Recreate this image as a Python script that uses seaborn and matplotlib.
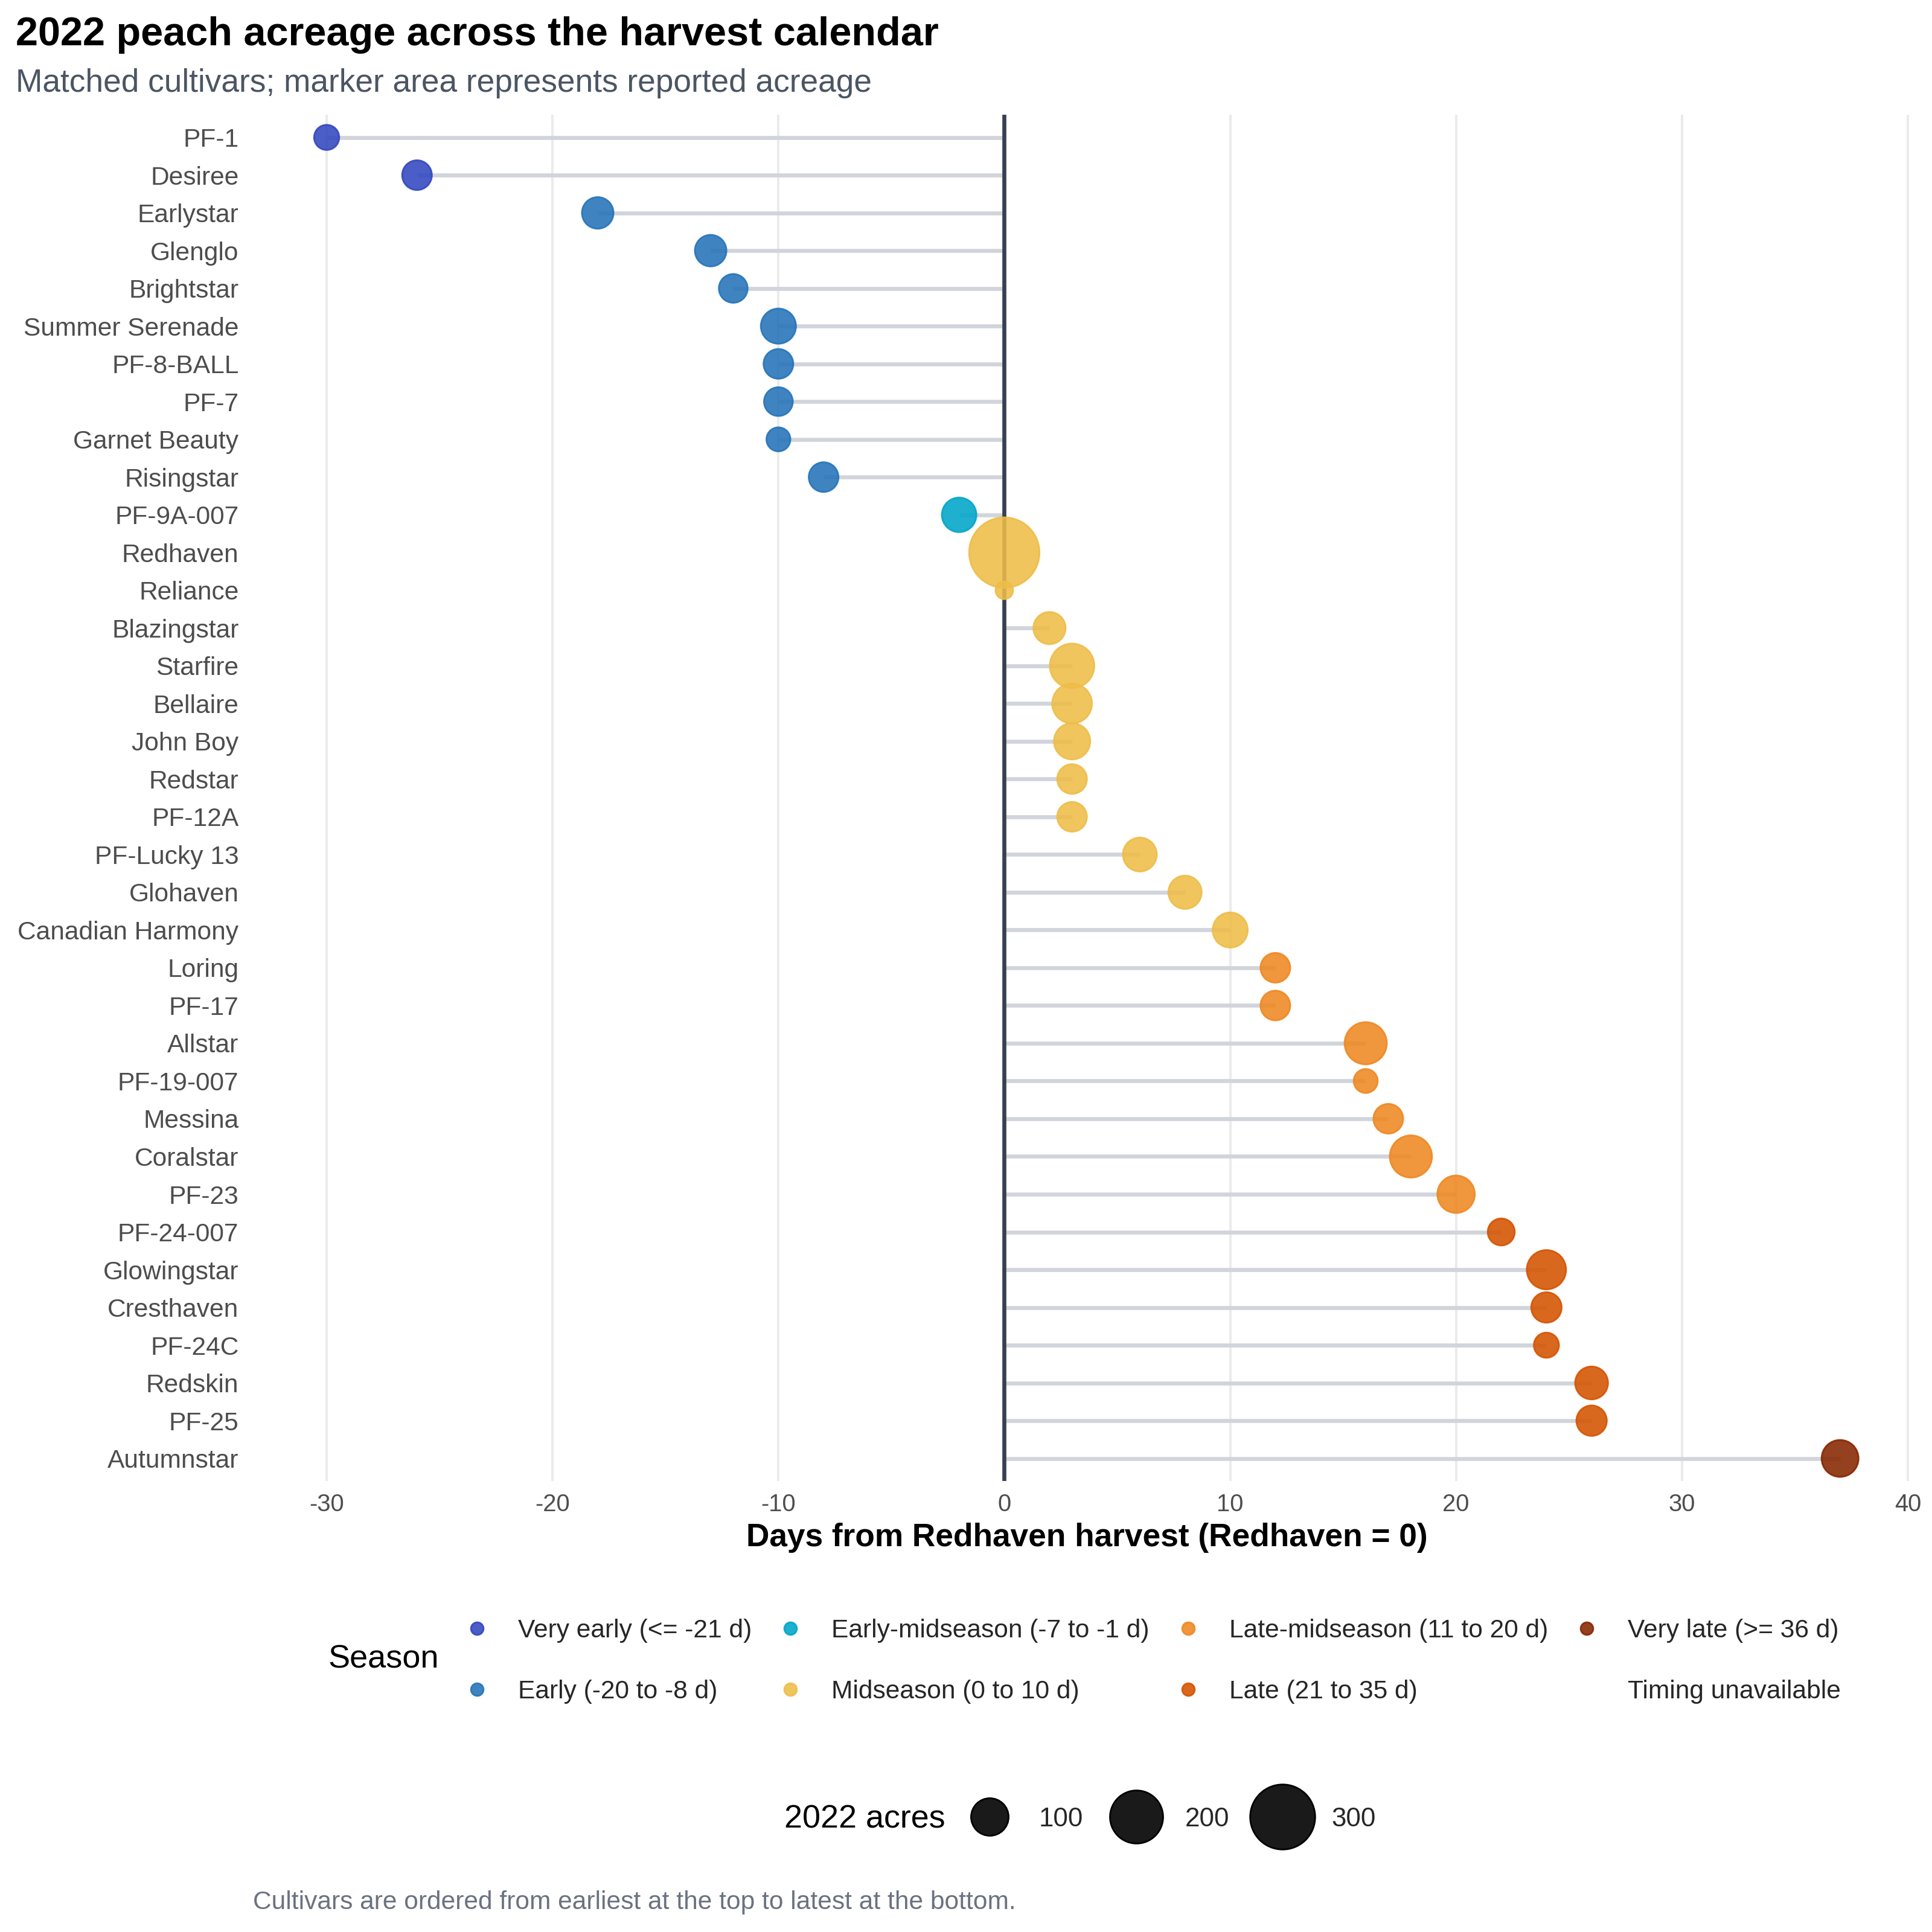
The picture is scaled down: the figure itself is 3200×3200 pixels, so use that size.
import numpy as np
import pandas as pd
import seaborn as sns
import matplotlib.pyplot as plt
from matplotlib.lines import Line2D

cultivars = ['PF-1', 'Desiree', 'Earlystar', 'Glenglo', 'Brightstar', 'Summer Serenade',
             'PF-8-BALL', 'PF-7', 'Garnet Beauty', 'Risingstar', 'PF-9A-007', 'Redhaven',
             'Reliance', 'Blazingstar', 'Starfire', 'Bellaire', 'John Boy', 'Redstar',
             'PF-12A', 'PF-Lucky 13', 'Glohaven', 'Canadian Harmony', 'Loring', 'PF-17',
             'Allstar', 'PF-19-007', 'Messina', 'Coralstar', 'PF-23', 'PF-24-007',
             'Glowingstar', 'Cresthaven', 'PF-24C', 'Redskin', 'PF-25', 'Autumnstar']
days = [-30, -26, -18, -13, -12, -10, -10, -10, -10, -8, -2, 0,
        0, 2, 3, 3, 3, 3, 3, 6, 8, 10, 12, 12,
        16, 16, 17, 18, 20, 22, 24, 24, 24, 26, 26, 37]
acres = [45, 63, 71, 71, 59, 88, 63, 59, 41, 63, 85, 352,
         22, 74, 141, 113, 94, 63, 63, 82, 79, 88, 63, 63,
         127, 41, 63, 127, 100, 52, 110, 66, 45, 77, 66, 97]

season_labels = ['Very early (<= -21 d)', 'Early (-20 to -8 d)', 'Early-midseason (-7 to -1 d)',
                 'Midseason (0 to 10 d)', 'Late-midseason (11 to 20 d)', 'Late (21 to 35 d)',
                 'Very late (>= 36 d)', 'Timing unavailable']
season_colors = ['#3246BE', '#2473B9', '#00A5C9', '#EEBD48', '#EE8821', '#D45300', '#862500', '#FFFFFF']
season_edges = [-999, -20.5, -7.5, -0.5, 10.5, 20.5, 35.5, 999]
size_ticks = [100, 200, 300]

df = pd.DataFrame({'cultivar': cultivars, 'days': days, 'acres': acres})
df['season'] = pd.cut(df['days'], bins=season_edges, labels=season_labels[:7])

sns.set_theme(style='white')
plt.rcParams['font.family'] = ['Liberation Sans', 'DejaVu Sans']
plt.rcParams['axes.unicode_minus'] = False

fig = plt.figure(figsize=(16, 16), dpi=200)
ax = fig.add_axes([0.134, 0.2334, 0.857, 0.7072])

palette = dict(zip(season_labels, season_colors))
size_range = (0, 2000)
size_norm = (0, 400)

ypos = np.arange(len(df))
ax.hlines(ypos, 0, df['days'], color='#d1d5db', lw=2.4, zorder=2)
ax.axvline(0, color='#374151', lw=2.4, zorder=3)

sns.scatterplot(data=df, x='days', y='cultivar', hue='season', size='acres',
                hue_order=season_labels[:7], palette=palette,
                sizes=size_range, size_norm=size_norm, alpha=0.88,
                linewidth=1.0, legend=False, ax=ax, zorder=4)
for coll in ax.collections:
    fc = coll.get_facecolors()
    if len(fc):
        coll.set_edgecolors(fc)

ax.set_xlim(-33, 40.3)
ax.set_ylim(len(df) - 0.4, -0.6)
ax.set_xticks([-30, -20, -10, 0, 10, 20, 30, 40])
ax.xaxis.grid(True, color='#ebebeb', lw=1.45, zorder=0)
ax.yaxis.grid(False)
ax.set_axisbelow(True)
for s in ax.spines.values():
    s.set_visible(False)
ax.tick_params(axis='y', length=0, labelsize=15.3, labelcolor='#4d4d4d', pad=12)
ax.tick_params(axis='x', length=0, labelsize=14.4, labelcolor='#4d4d4d', pad=7)
ax.set_ylabel('')
ax.set_xlabel('Days from Redhaven harvest (Redhaven = 0)', fontsize=19.2,
              fontweight='bold', color='black', labelpad=4)

fig.text(0.008, 0.982, '2022 peach acreage across the harvest calendar',
         fontsize=24, fontweight='bold', color='black', va='center', ha='left')
fig.text(0.008, 0.957, 'Matched cultivars; marker area represents reported acreage',
         fontsize=19.2, color='#4b5563', va='center', ha='left')

# season legend
season_handles = []
for lab, col in zip(season_labels, season_colors):
    if lab == 'Timing unavailable':
        h = Line2D([], [], ls='', marker='o', markersize=7.5, markerfacecolor='none',
                   markeredgecolor='none')
    else:
        h = Line2D([], [], ls='', marker='o', markersize=7.5, markerfacecolor=col,
                   markeredgecolor=col, alpha=0.88)
    season_handles.append(h)
fig.legend(season_handles, season_labels, ncol=4, loc='center left',
           bbox_to_anchor=(0.2337, 0.1402), frameon=False, fontsize=15.3,
           handlelength=1.0, handletextpad=1.1, columnspacing=1.0, labelspacing=1.45,
           borderpad=0)
fig.text(0.170, 0.141, 'Season', fontsize=19.5, color='black', va='center', ha='left')

# size legend
size_handles = []
for v in size_ticks:
    s = size_range[0] + (v - size_norm[0]) / (size_norm[1] - size_norm[0]) * (size_range[1] - size_range[0])
    size_handles.append(Line2D([], [], ls='', marker='o', markersize=np.sqrt(s),
                               markerfacecolor='#1a1a1a', markeredgecolor='black',
                               markeredgewidth=1.0))
fig.legend(size_handles, [str(v) for v in size_ticks], ncol=3, loc='center left',
           bbox_to_anchor=(0.4903, 0.0584), frameon=False, fontsize=15.8,
           handlelength=2.2, handletextpad=0.75, columnspacing=0.9, borderpad=0)
fig.text(0.406, 0.0584, '2022 acres', fontsize=19.4, color='black', va='center', ha='left')

fig.text(0.131, 0.0153, 'Cultivars are ordered from earliest at the top to latest at the bottom.',
         fontsize=15.3, color='#6b7280', va='center', ha='left')

fig.savefig('out.png', dpi=200)
